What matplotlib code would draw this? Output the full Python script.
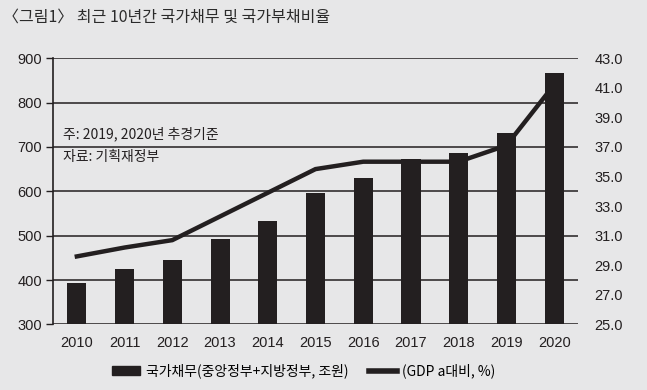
import matplotlib
matplotlib.use("Agg")
import matplotlib.pyplot as plt
from matplotlib.patches import Patch
from matplotlib.lines import Line2D

# --- données ---
years = ["2010", "2011", "2012", "2013", "2014", "2015",
         "2016", "2017", "2018", "2019", "2020"]
debt = [393, 425, 446, 493, 534, 596, 631, 672, 687, 731, 866]        # 조원
ratio = [29.6, 30.2, 30.7, 32.3, 33.9, 35.5, 36.0, 36.0, 36.0, 37.1, 41.2]  # % GDP

left_ticks = [300, 400, 500, 600, 700, 800, 900]
right_ticks = [25.0, 27.0, 29.0, 31.0, 33.0, 35.0, 37.0, 39.0, 41.0, 43.0]

title = "〈그림1〉 최근 10년간 국가채무 및 국가부채비율"
note1 = "주: 2019, 2020년 추경기준"
note2 = "자료: 기획재정부"
bar_label = "국가채무(중앙정부+지방정부, 조원)"
line_label = "(GDP a대비, %)"

bg = "#e7e7e8"
ink = "#231f20"
num_font = ["Liberation Sans Narrow", "Liberation Sans", "Noto Sans CJK KR"]
kr_font = ["Noto Sans CJK KR", "DejaVu Sans"]

plt.rcParams["font.family"] = kr_font

fig = plt.figure(figsize=(6.47, 3.90), dpi=100, facecolor=bg)
ax = fig.add_axes([0.0819, 0.168, 0.8115, 0.683])
ax.set_facecolor(bg)

x = list(range(len(years)))
ax.bar(x, debt, width=0.4, color=ink, zorder=2)
ax.set_xlim(-0.5, len(years) - 0.5)
ax.set_ylim(300, 900)
ax.set_yticks(left_ticks)
ax.set_yticklabels([str(t) for t in left_ticks], family=num_font, fontsize=10.5, color=ink)
ax.set_xticks(x)
ax.set_xticklabels(years, family=num_font, fontsize=10.5, color=ink)
ax.tick_params(axis="x", length=0, pad=8)
ax.tick_params(axis="y", length=5, width=1, color=ink, pad=3)
ax.yaxis.grid(True, color=ink, linewidth=1.1)
ax.set_axisbelow(True)
for s in ["top", "right", "bottom"]:
    ax.spines[s].set_visible(False)
ax.spines["left"].set_color(ink)
ax.spines["left"].set_linewidth(1.2)

ax2 = ax.twinx()
ax2.plot(x, ratio, color=ink, linewidth=3.2, solid_joinstyle="miter", zorder=3)
ax2.set_ylim(25, 43)
ax2.set_yticks(right_ticks)
ax2.set_yticklabels([f"{t:.1f}" for t in right_ticks], family=num_font, fontsize=10.5, color=ink)
ax2.tick_params(axis="y", length=0, pad=12)
for s in ax2.spines.values():
    s.set_visible(False)

fig.text(0.004, 0.955, title, fontsize=11.5, fontweight="medium", color="#2b2b2b",
         va="center", ha="left")
ax.text(0.02, 0.715, note1, transform=ax.transAxes, fontsize=10, color=ink, va="center")
ax.text(0.02, 0.63, note2, transform=ax.transAxes, fontsize=10, color=ink, va="center")

handles = [Patch(facecolor=ink, edgecolor=ink),
           Line2D([0], [0], color=ink, linewidth=4)]
fig.legend(handles, [bar_label, line_label], loc="center", ncol=2,
           bbox_to_anchor=(0.47, 0.048), frameon=False, fontsize=10,
           handlelength=2.0, handleheight=0.6, handletextpad=0.4, columnspacing=1.5)

fig.savefig("out.png", dpi=100, facecolor=bg)
